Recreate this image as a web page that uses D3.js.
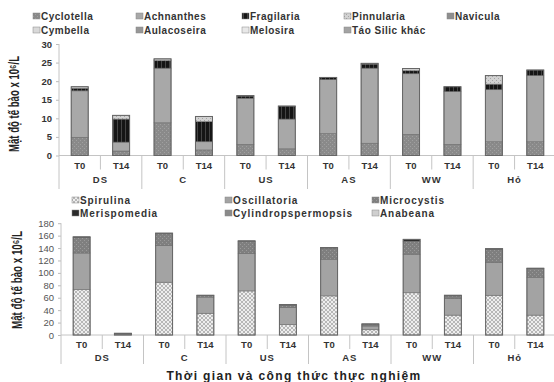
<!DOCTYPE html>
<html><head><meta charset="utf-8">
<script src="https://cdn.jsdelivr.net/npm/d3@7"></script>
<style>
body{margin:0;background:#fff;}
svg{display:block;}
text{font-family:"Liberation Sans",Arial,sans-serif;}
</style></head>
<body>
<svg id="c" width="554" height="382"></svg>
<script>
// ---------- DATA ----------
const groups = ["DS","C","US","AS","WW","Hỏ"];
const times = ["T0","T14"];

// Top chart (diatoms), 12 bars: DS T0, DS T14, C T0, ...
const topSeriesNames = ["Cyclotella","Achnanthes","Fragilaria","Pinnularia","Navicula","Cymbella","Aulacoseira","Melosira","Táo Silic khác"];
const cyclotella  = [4.9,1.2, 8.8,1.5, 3.0,1.8, 5.9,3.3, 5.7,3.0, 3.7,3.7];
const achnanthes  = [12.5,2.4, 14.7,2.2, 12.4,8.0, 14.5,20.2, 16.3,14.2, 14.0,17.8];
const fragilaria  = [0.7,6.2, 2.0,5.4, 0.6,3.5, 0.6,1.1, 0.8,1.3, 1.5,1.5];
const pinnularia  = [0.4,1.0, 0.5,1.4, 0.1,0, 0,0.2, 0.6,0, 2.3,0];
const navicula    = [0,0, 0,0, 0,0, 0,0, 0,0, 0,0];
const cymbella    = [0,0, 0,0, 0,0, 0,0, 0,0, 0,0];
const aulacoseira = [0,0, 0,0, 0,0, 0,0, 0,0, 0,0];
const melosira    = [0,0, 0,0, 0,0, 0,0, 0,0, 0,0];
const taoSilic    = [0,0, 0,0, 0,0, 0,0, 0,0, 0,0];
const topTicks = [0,5,10,15,20,25,30];

// Bottom chart (cyanobacteria)
const botSeriesNames = ["Spirulina","Oscillatoria","Microcystis","Merispomedia","Cylindropspermopsis","Anabeana"];
const spirulina    = [73,0.5, 85,35, 71,17, 63,8.5, 68,32, 64,32];
const oscillatoria = [59,1.0, 59,26, 60,27, 59,6, 62,27, 53,61];
const microcystis  = [25,1.0, 19,2.5, 20,4, 18,3, 21,4, 21,14];
const merispomedia = [1,0.3, 1,0.5, 0.5,1, 0.7,0.3, 3,1, 1,0.5];
const cylindro     = [0,0, 0,0, 0,0, 0,0, 0,0, 0,0];
const anabeana     = [0,0, 0,0, 0,0, 0,0, 0,0, 0,0];
const botTicks = [0,20,40,60,80,100,120,140,160,180];

const yTitle = "Mật độ tế bào x 10⁶/L";
const xTitle = "Thời gian và công thức thực nghiệm";

// ---------- DRAW ----------
const svg = d3.select("#c");
const defs = svg.append("defs");
function pat(id, bg, fg, type){
  const p = defs.append("pattern").attr("id",id).attr("patternUnits","userSpaceOnUse")
    .attr("width",4).attr("height",4);
  p.append("rect").attr("width",4).attr("height",4).attr("fill",bg);
  if(type==="dots"){
    p.append("rect").attr("x",0).attr("y",0).attr("width",1).attr("height",1).attr("fill",fg);
    p.append("rect").attr("x",2).attr("y",2).attr("width",1).attr("height",1).attr("fill",fg);
  } else if(type==="cross"){
    p.append("path").attr("d","M0,0L4,4M4,0L0,4").attr("stroke",fg).attr("stroke-width",0.8);
  } else if(type==="vstripe"){
    p.append("rect").attr("x",1).attr("y",0).attr("width",1).attr("height",4).attr("fill",fg);
  }
  return `url(#${id})`;
}
const topColors = [
  pat("pCyc","#8a8a8a","#a0a0a0","dots"),
  "#a8a8a8",
  pat("pFra","#151515","#444","vstripe"),
  pat("pPin","#d2d2d2","#a5a5a5","dots"),
  "#8e8e8e",
  "#d9d9d9",
  "#979797",
  "#e8e8e8",
  "#a3a3a3"
];
const botColors = [
  pat("pSpi","#eeeeee","#a8a8a8","cross"),
  "#a3a3a3",
  pat("pMic","#7f7f7f","#9a9a9a","dots"),
  "#2a2a2a",
  "#8a8a8a",
  "#cfcfcf"
];

function legend(names, colors, cols, xs, ys, spacing){
  names.forEach((n,i)=>{
    const r = Math.floor(i/cols), c = i%cols;
    const g = svg.append("g").attr("transform",`translate(${xs[c]},${ys[r]})`);
    g.append("rect").attr("x",0).attr("y",-3).attr("width",7).attr("height",6)
      .attr("fill",colors[i]).attr("stroke","#888").attr("stroke-width",0.5);
    g.append("text").attr("x",8).attr("y",0).attr("dy","0.35em")
      .attr("font-size",10).attr("font-weight","bold").attr("letter-spacing",spacing)
      .attr("fill","#333").text(n);
  });
}

function chart(opt){
  const slots = [];
  groups.forEach(g=>times.forEach(t=>slots.push(g+"|"+t)));
  const x = d3.scaleBand().domain(slots).range([opt.x0,opt.x1]).paddingInner(0.59).paddingOuter(0.295);
  const y = d3.scaleLinear().domain([0,opt.max]).range([opt.base,opt.top]);
  const gx = d3.scaleBand().domain(groups).range([opt.x0,opt.x1]);

  const ya = d3.axisLeft(y).tickValues(opt.ticks).tickSize(3).tickPadding(4);
  const gy = svg.append("g").attr("transform",`translate(${opt.x0},0)`).call(ya);
  gy.select(".domain").remove();
  gy.selectAll(".tick line").attr("stroke","#bbb");
  gy.selectAll(".tick text").attr("font-size",opt.tickFs).attr("font-weight",opt.tickBold?"bold":"normal")
    .attr("fill",opt.tickColor).attr("font-family","Liberation Sans, Arial, sans-serif");
  svg.append("line").attr("x1",opt.x0).attr("x2",opt.x0).attr("y1",opt.top).attr("y2",opt.sepBottom)
    .attr("stroke","#c4c4c4").attr("stroke-width",1);
  svg.append("line").attr("x1",opt.x0).attr("x2",opt.x1).attr("y1",opt.base).attr("y2",opt.base)
    .attr("stroke","#c4c4c4").attr("stroke-width",1);

  groups.forEach((g,i)=>{
    if(i>0){
      svg.append("line").attr("x1",gx(g)).attr("x2",gx(g)).attr("y1",opt.base).attr("y2",opt.sepBottom)
        .attr("stroke","#c4c4c4");
    }
    const mid = gx(g)+gx.bandwidth()/2;
    svg.append("line").attr("x1",mid).attr("x2",mid).attr("y1",opt.base).attr("y2",opt.base+14)
      .attr("stroke","#c4c4c4");
    svg.append("text").attr("x",mid).attr("y",opt.groupY).attr("text-anchor","middle").attr("dy","0.35em")
      .attr("font-size",9.5).attr("font-weight","bold").attr("letter-spacing",1).attr("fill","#333").text(g);
  });
  slots.forEach(s=>{
    svg.append("text").attr("x",x(s)+x.bandwidth()/2).attr("y",opt.timeY).attr("text-anchor","middle")
      .attr("dy","0.35em").attr("font-size",9.5).attr("font-weight","bold").attr("fill","#333")
      .text(s.split("|")[1]);
  });

  const rows = slots.map((s,i)=>{
    const o = {slot:s};
    opt.series.forEach((arr,k)=>o["s"+k]=arr[i]);
    return o;
  });
  const keys = opt.series.map((_,k)=>"s"+k);
  const stack = d3.stack().keys(keys)(rows);
  stack.forEach((layer,k)=>{
    svg.append("g").selectAll("rect").data(layer).join("rect")
      .attr("x",d=>x(d.data.slot)).attr("width",x.bandwidth())
      .attr("y",d=>y(d[1])).attr("height",d=>Math.max(0,y(d[0])-y(d[1])))
      .attr("fill",opt.colors[k]).attr("stroke","#6e6e6e").attr("stroke-width",0.6);
  });
  svg.append("g").selectAll("rect").data(rows).join("rect")
    .attr("x",d=>x(d.slot)).attr("width",x.bandwidth())
    .attr("y",d=>y(d3.sum(keys,k=>d[k]))).attr("height",d=>opt.base-y(d3.sum(keys,k=>d[k])))
    .attr("fill","none").attr("stroke","#666").attr("stroke-width",1);

  svg.append("text").attr("transform",`translate(${opt.ytX},${opt.ytY}) rotate(-90)`)
    .attr("text-anchor","middle").attr("dy","0.35em")
    .attr("textLength",opt.ytLen).attr("lengthAdjust","spacingAndGlyphs")
    .attr("font-size",14).attr("font-weight","bold").attr("fill","#222").text(yTitle);
}

legend(topSeriesNames, topColors, 5, [33,136,242,344,447], [16,30], 0.5);
chart({x0:59,x1:556,base:155.5,top:44,max:30,ticks:topTicks,series:[cyclotella,achnanthes,fragilaria,pinnularia,navicula,cymbella,aulacoseira,melosira,taoSilic],
  colors:topColors,timeY:166,groupY:180,sepBottom:189,tickFs:9.5,tickBold:true,tickColor:"#333",ytX:14,ytY:104,ytLen:96});

legend(botSeriesNames, botColors, 3, [72,225,372], [200,213], 0.9);
chart({x0:61,x1:556,base:335,top:223.2,max:180,ticks:botTicks,series:[spirulina,oscillatoria,microcystis,merispomedia,cylindro,anabeana],
  colors:botColors,timeY:345,groupY:358,sepBottom:364,tickFs:9.5,tickBold:false,tickColor:"#555",ytX:17,ytY:280,ytLen:98});

svg.append("text").attr("x",294).attr("y",376).attr("text-anchor","middle").attr("dy","0.35em")
  .attr("font-size",12).attr("font-weight","bold").attr("letter-spacing",1.35).attr("fill","#222").text(xTitle);
</script>
</body></html>
